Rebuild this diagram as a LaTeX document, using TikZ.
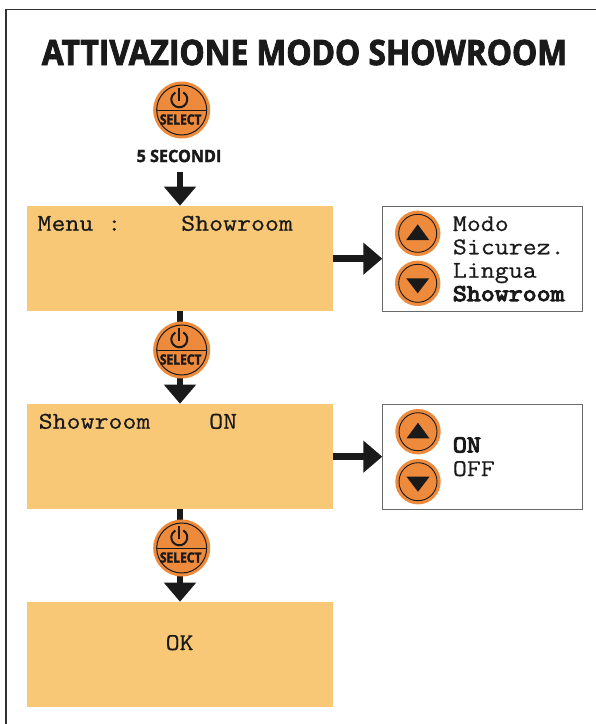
\documentclass[tikz,border=0pt]{standalone}
\usepackage{fontspec}
\usetikzlibrary{arrows.meta}
\setmainfont{Open Sans}
\newfontfamily\headfont[BoldFeatures={FakeBold=2.4,FakeStretch=0.906}]{Open Sans}
\newfontfamily\subfont[BoldFeatures={FakeBold=1.8,FakeStretch=0.95}]{Open Sans}
\newfontfamily\selfont[BoldFeatures={FakeBold=2.2,FakeStretch=0.86}]{Open Sans}
\newfontfamily\lcd[FakeStretch=1.13,FakeBold=0.6]{Latin Modern Mono}
\newfontfamily\lcdb[FakeStretch=1.13,FakeBold=4.5]{Latin Modern Mono}
\definecolor{lcdbg}{HTML}{F9C877}
\definecolor{btn}{HTML}{EE8A3C}
\definecolor{ink}{HTML}{1A1A1A}
\newcommand{\selbtn}[2]{%
 \node[circle,fill=btn,minimum size=57pt,inner sep=0pt] (#1) at #2 {};
 \begin{scope}[shift={(#1.center)}]
 \draw[ink,line width=1pt] (0,0) circle (25pt);
 \draw[ink,line width=1pt] (-25,0.7) -- (25,0.7);
 \draw[ink,line width=2pt] (1.6,-17.6) arc[start angle=60,delta angle=-300,radius=8pt];
 \draw[ink,line width=2pt] (-2.4,-22) -- (-2.4,-9);
 \node[font=\selfont\bfseries\fontsize{14}{14}\selectfont,text=ink,inner sep=0pt] (#1sel) at (-1,9.5) {SELECT};
 \end{scope}
}
\newcommand{\arrbtn}[3]{%
 \node[circle,fill=btn,minimum size=45.4pt,inner sep=0pt] (#1) at #2 {};
 \begin{scope}[shift={(#1.center)}]
 \draw[ink,line width=0.9pt] (0,0) circle (19pt);
 \ifnum#3=1
  \fill[ink] (-11.5,6.7) -- (11.5,6.7) -- (0,-9) -- cycle;
 \else
  \fill[ink] (-11.5,-5) -- (11.5,-5) -- (0,10) -- cycle;
 \fi
 \end{scope}
}
\begin{document}
\begin{tikzpicture}[x=1pt,y=-1pt,
 lcdbox/.style={fill=lcdbg,draw=none,minimum width=305.6pt,minimum height=105.5pt,inner sep=0pt,anchor=north west},
 lcdtxt/.style={font=\lcd\fontsize{24}{24}\selectfont,text=ink,inner sep=0pt,anchor=base west},
 lcdbold/.style={font=\lcdb\fontsize{24}{24}\selectfont,text=ink,inner sep=0pt,anchor=base west},
 sidebox/.style={draw=ink!65,line width=1pt,fill=white,minimum width=199.4pt,minimum height=105.3pt,inner sep=0pt,anchor=north west},
 conn/.style={ink,line width=6.5pt},
 connarrow/.style={conn,-{Triangle[width=31pt,length=19pt]}}]
\useasboundingbox (0,0) rectangle (596,724);
\fill[white] (0,0) rectangle (596,724);
\draw[ink!90,line width=1.2pt] (6,724) -- (6,9.4) -- (596,9.4);
\node[font=\headfont\bfseries\fontsize{35}{35}\selectfont,text=ink,inner sep=0pt] (title) at (304.5,52.5) {ATTIVAZIONE MODO SHOWROOM};
\node[lcdbox] (l1) at (26.7,205.7) {};
\node[lcdbox] (l2) at (26.7,403.7) {};
\node[lcdbox] (l3) at (26.7,601.7) {};
\node[sidebox] (s1) at (382.3,206) {};
\node[sidebox] (s2) at (382.3,404) {};
\coordinate (c1) at (180,171.7);
\coordinate (c1e) at (180,205.7);
\coordinate (b2t) at (180,311.2);
\coordinate (b2m) at (180,350);
\coordinate (c2e) at (180,403.7);
\coordinate (b3t) at (180,509.2);
\coordinate (b3m) at (180,548);
\coordinate (c3e) at (180,601.7);
\draw[connarrow] (c1) -- (c1e);
\draw[conn] (b2t) -- (b2m);
\draw[connarrow] (b2m) -- (c2e);
\draw[conn] (b3t) -- (b3m);
\draw[connarrow] (b3m) -- (c3e);
\draw[connarrow] (l1.east) -- (l1.east -| s1.west);
\draw[connarrow] (l2.east) -- (l2.east -| s2.west);
\node[lcdtxt] (t1) at (37.3,230.7) {Menu :};
\node[lcdtxt] (t1b) at (181,230.7) {Showroom};
\node[lcdtxt] (t2) at (38.5,428.7) {Showroom};
\node[lcdtxt] (t2b) at (209,428.7) {ON};
\node[lcdtxt] (t3) at (165.5,650) {OK};
\selbtn{b1}{(181.7,110)}
\selbtn{b2}{(181.7,350)}
\selbtn{b3}{(181.7,548)}
\node[font=\subfont\bfseries\fontsize{17}{17}\selectfont,text=ink,inner sep=0pt] (sec) at (179,156) {5 SECONDI};
\arrbtn{u1}{(417.7,233.3)}{1}
\arrbtn{d1}{(417.7,283.3)}{0}
\arrbtn{u2}{(418,431.7)}{1}
\arrbtn{d2}{(418,481.7)}{0}
\node[lcdtxt] (m1) at (452.7,231) {Modo};
\node[lcdtxt] (m2) at (452.7,254.3) {Sicurez.};
\node[lcdtxt] (m3) at (452.7,277.7) {Lingua};
\node[lcdbold] (m4) at (452.7,301) {Showroom};
\node[lcdbold] (o1) at (452.7,452.3) {ON};
\node[lcdtxt] (o2) at (452.7,476) {OFF};
\end{tikzpicture}
\end{document}
